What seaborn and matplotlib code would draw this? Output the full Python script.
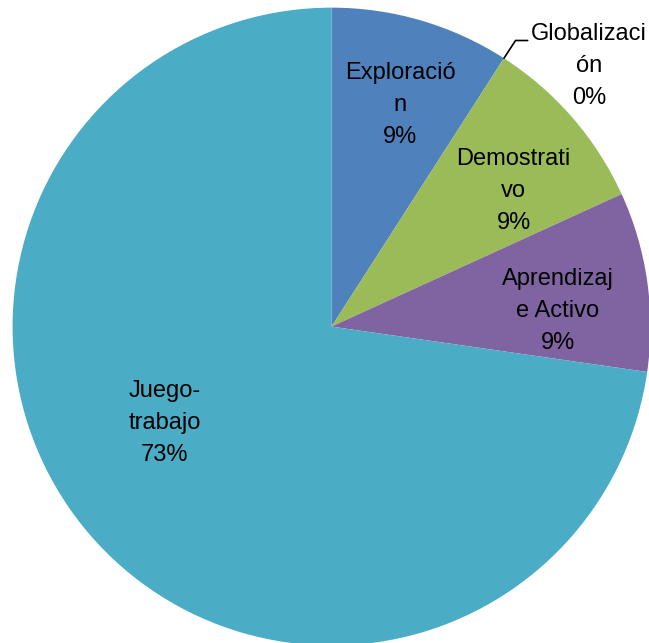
import numpy as np
import matplotlib
matplotlib.use("Agg")
import matplotlib.pyplot as plt
import seaborn as sns

# Data (counts read as shares of 11 responses)
categories = ["Exploración", "Globalización", "Demostrativo", "Aprendizaje Activo", "Juego-trabajo"]
values = [1, 0, 1, 1, 8]
# Label text as wrapped in the reference
label_lines = [["Exploració", "n"], ["Globalizaci", "ón"], ["Demostrati", "vo"],
               ["Aprendizaj", "e Activo"], ["Juego-", "trabajo"]]
colors = ["#4F81BD", "#C0504D", "#9BBB59", "#8064A2", "#4BACC6"]

sns.set_theme(style="white")
plt.rcParams["font.family"] = ["Liberation Sans", "DejaVu Sans"]

fig = plt.figure(figsize=(6.49, 6.43), dpi=100)
ax = fig.add_axes([0.0193, -0.0039, 0.983, 0.992])

wedges, _ = ax.pie(values, colors=colors, startangle=90, counterclock=False,
                   radius=1, wedgeprops={"linewidth": 0})
ax.set_xlim(-1, 1)
ax.set_ylim(-1, 1)
ax.set_aspect("equal")
ax.axis("off")

total = sum(values)
# label anchors (data units, relative to pie centre)
anchors = [(0.216, 0.694), (0.807, 0.817), (0.571, 0.425), (0.710, 0.049), (-0.524, -0.303)]
for lines, v, (x, y) in zip(label_lines, values, anchors):
    pct = f"{round(v / total * 100)}%"
    ax.text(x, y, "\n".join(lines + [pct]), ha="center", va="center",
            fontsize=17, color="black", linespacing=1.6)

# leader line for the zero slice
w = wedges[1]
ang = np.deg2rad(w.theta1)
ex, ey = np.cos(ang), np.sin(ang)
ax.plot([ex, 0.577, 0.615], [ey, 0.897, 0.897], color="black", lw=1.2,
        clip_on=False, solid_joinstyle="miter")

fig.savefig("out.png", dpi=100, facecolor="white")
